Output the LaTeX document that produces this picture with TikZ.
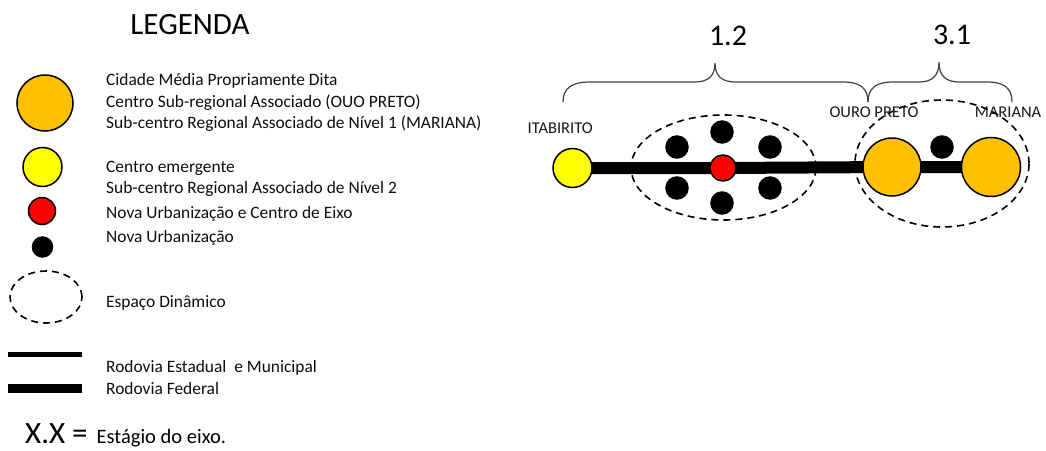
\documentclass[tikz,border=0pt]{standalone}
\usepackage{fontspec}
\setmainfont{Carlito}
\usetikzlibrary{shapes.geometric,backgrounds}
\definecolor{cityorange}{HTML}{FFC000}
\definecolor{cityyellow}{HTML}{FFFF00}
\definecolor{cityred}{HTML}{FF0000}
\definecolor{bracegray}{HTML}{404040}
\begin{document}
\begin{tikzpicture}[x=1pt,y=-1pt,
  dot/.style={circle,draw=black,line width=1.5pt,inner sep=0pt,minimum size=#1},
  bigcity/.style={dot=#1,fill=cityorange},
  midcity/.style={dot=#1,fill=cityyellow},
  axiscity/.style={dot=#1,fill=cityred},
  newurb/.style={dot=#1,fill=black},
  dynspace/.style={ellipse,draw=black,line width=1.6pt,dash pattern=on 7pt off 5pt,inner sep=0pt},
  legtext/.style={anchor=base west,inner sep=0pt,font=\fontsize{17.4}{20}\selectfont,text=black!95},
  placetext/.style={anchor=base,inner sep=0pt,font=\fontsize{16.5}{18}\selectfont,text=black!90},
  stagetext/.style={anchor=base,inner sep=0pt,font=\fontsize{30}{32}\selectfont},
  bracestyle/.style={draw=bracegray,line width=1.2pt},
  federal/.style={line width=12pt,black},
  statehw/.style={line width=5pt,black},
  fedleg/.style={line width=9pt,black}]
\useasboundingbox (0,0) rectangle (1046,450);

% ---------- Legend ----------
\node[anchor=base,inner sep=0pt,font=\fontsize{31}{33}\selectfont] (title) at (190,34) {LEGENDA};

\node[bigcity=56pt] (lorange) at (45,103) {};
\node[legtext] (t1) at (106,85) {Cidade Média Propriamente Dita};
\node[legtext] (t2) at (106,107) {Centro Sub-regional Associado (OUO PRETO)};
\node[legtext] (t3) at (106,128) {Sub-centro Regional Associado de Nível 1 (MARIANA)};

\node[midcity=39pt] (lyellow) at (42.5,167) {};
\node[legtext] (t4) at (106,172) {Centro emergente};
\node[legtext] (t5) at (106,193) {Sub-centro Regional Associado de Nível 2};

\node[axiscity=27pt] (lred) at (42,211) {};
\node[legtext] (t6) at (106,218) {Nova Urbanização e Centro de Eixo};

\node[newurb=20pt] (lblack) at (42.5,247) {};
\node[legtext] (t7) at (106,242) {Nova Urbanização};

\node[dynspace,minimum width=72pt,minimum height=52pt] (lell) at (46,297) {};
\node[legtext] (t8) at (106,307) {Espaço Dinâmico};

\coordinate (ls1) at (8,354);
\coordinate (ls2) at (82,354);
\draw[statehw] (ls1) -- (ls2);
\node[legtext] (t9) at (106,372) {Rodovia Estadual\ \ e Municipal};
\coordinate (lf1) at (8,388);
\coordinate (lf2) at (82,388);
\draw[fedleg] (lf1) -- (lf2);
\node[legtext] (t10) at (106,394) {Rodovia Federal};

\node[anchor=base west,inner sep=0pt] (xx) at (25,443)
  {{\fontsize{31}{33}\selectfont X.X =}\hspace{9pt}{\fontsize{20.5}{22}\selectfont Estágio do eixo.}};

% ---------- Diagram ----------
\node[dynspace,minimum width=185pt,minimum height=105pt] (e1) at (723.5,167.5) {};
\node[dynspace,minimum width=174pt,minimum height=127pt] (e2) at (942,163.5) {};

\node[midcity=39pt] (ita) at (572.5,168) {};
\node[axiscity=26pt] (cent) at (723,168) {};
\node[bigcity=58pt] (op) at (892,167) {};
\node[bigcity=59pt] (mar) at (991,167) {};

\begin{pgfonlayer}{background}
\draw[federal] (ita.center) -- (cent.center) -- (op.center) -- (mar.center);
\end{pgfonlayer}

\node[newurb=22pt] (d1) at (722,132) {};
\node[newurb=22pt] (d2) at (677,147) {};
\node[newurb=22pt] (d3) at (770,147) {};
\node[newurb=22pt] (d4) at (677,188) {};
\node[newurb=22pt] (d5) at (770,188) {};
\node[newurb=22pt] (d6) at (722,203) {};
\node[newurb=22pt] (d7) at (942,147) {};

\node[placetext,anchor=base east] (ital) at (593,133) {ITABIRITO};
\node[placetext] (opl) at (874,117) {OURO PRETO};
\node[placetext] (marl) at (1008,117) {MARIANA};

% braces
\coordinate (b1l) at (563,102);
\coordinate (b1t) at (715,63);
\coordinate (b1r) at (868,102);
\coordinate (b2t) at (939,62);
\coordinate (b2r) at (1012,102);
\draw[bracestyle] (b1l) .. controls (563,88) and (572,82) .. (590,82) -- (695,82)
  .. controls (708,82) and (715,76) .. (b1t)
  .. controls (715,76) and (722,82) .. (735,82) -- (843,82)
  .. controls (860,82) and (868,88) .. (b1r);
\draw[bracestyle] (b1r) .. controls (868,88) and (876,82) .. (893,82) -- (919,82)
  .. controls (932,82) and (939,76) .. (b2t)
  .. controls (939,76) and (946,82) .. (959,82) -- (987,82)
  .. controls (1004,82) and (1012,88) .. (b2r);

\node[stagetext] (s12) at (728,45) {1.2};
\node[stagetext] (s31) at (952,44) {3.1};
\end{tikzpicture}
\end{document}
